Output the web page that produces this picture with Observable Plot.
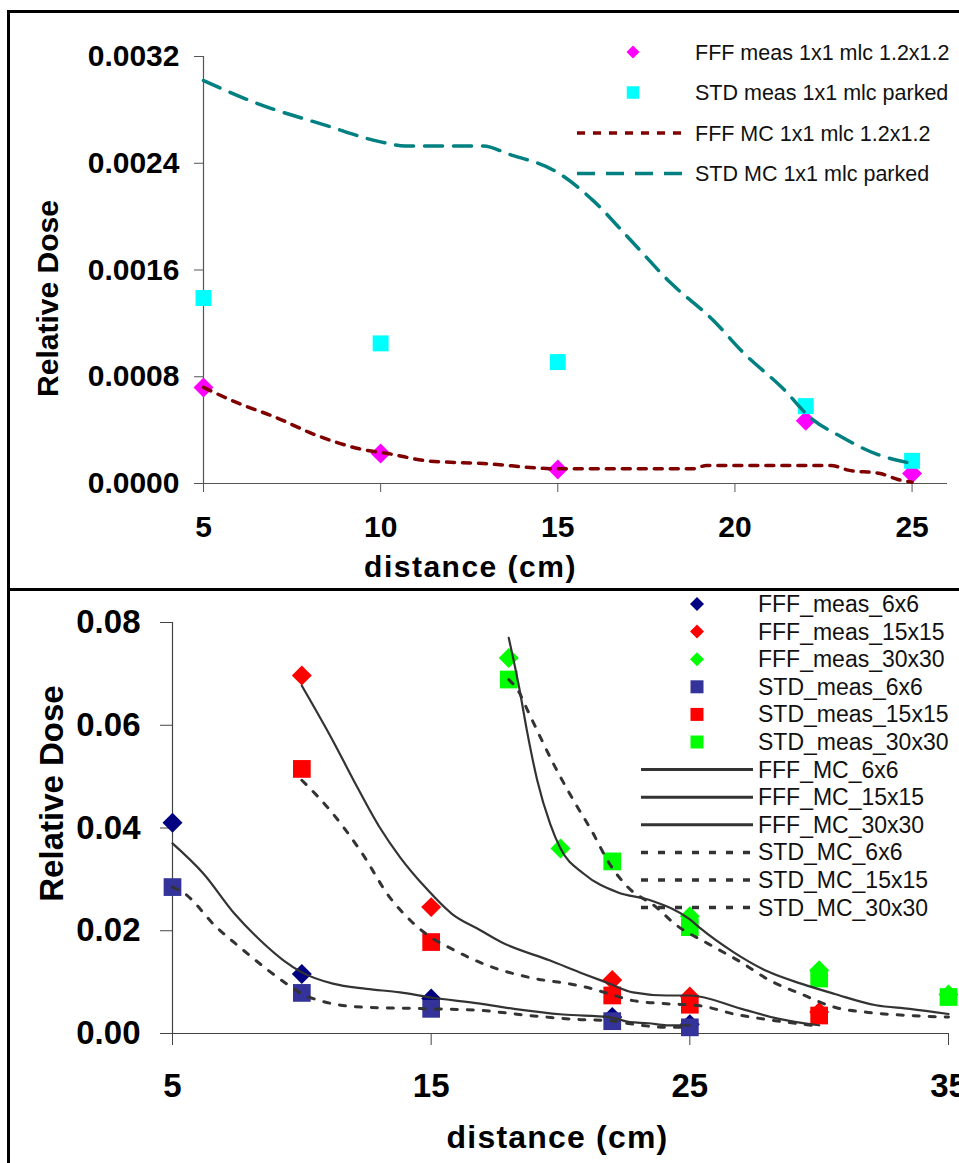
<!DOCTYPE html>
<html><head><meta charset="utf-8">
<script src="https://cdn.jsdelivr.net/npm/d3@7"></script>
<script src="https://cdn.jsdelivr.net/npm/@observablehq/plot@0.6"></script>
<style>
html,body{margin:0;padding:0;background:#fff;overflow:hidden;}
body{width:959px;height:1163px;position:relative;font-family:"Liberation Sans",Arial,Helvetica,sans-serif;}
.abs{position:absolute;left:0;}
.box{position:absolute;pointer-events:none;border-color:#000;border-style:solid;}
</style></head><body>
<div id="top" class="abs" style="top:0"></div>
<div id="bot" class="abs" style="top:591px"></div>
<svg id="legend" class="abs" style="top:0;pointer-events:none" width="959" height="1163"></svg>
<div class="box" style="left:7px;top:10px;width:1000px;height:575px;border-width:3px 0 3px 3px"></div>
<div class="box" style="left:7px;top:591px;width:1000px;height:600px;border-width:0 0 0 3px"></div>
<script>
// ---------- TOP PANEL DATA ----------
const topMeasX = [5, 10, 15, 22, 25];
const fffMeas1 = [0.00072, 0.000224, 0.000105, 0.00047, 0.000075];
const stdMeas1 = [0.00139, 0.00105, 0.00091, 0.00058, 0.00017];
const fffMc1X = [5, 6, 7, 8.2, 9.4, 10.3, 11.3, 12.9, 15, 18.8, 19.2, 22.7, 23.2, 24.1, 24.6, 25];
const fffMc1Y = [0.00072, 0.0006, 0.0005, 0.00036, 0.00026, 0.00022, 0.00017, 0.00015, 0.00011, 0.00011, 0.000135, 0.000135, 0.0001, 0.000075, 0.00003, 0.00001];
const stdMc1X = [5, 6.4, 8.5, 10, 10.7, 12.9, 13.6, 15, 16, 17, 18.2, 19.4, 20.2, 21.4, 22.1, 23, 24, 25];
const stdMc1Y = [0.00302, 0.00286, 0.00268, 0.00256, 0.00253, 0.00253, 0.00247, 0.00233, 0.00212, 0.00184, 0.0015, 0.00122, 0.00099, 0.0007, 0.0005, 0.00035, 0.00022, 0.00015];
const topYTicks = [0, 0.0008, 0.0016, 0.0024, 0.0032];
const topXTicks = [5, 10, 15, 20, 25];
const topLegendNames = ["FFF meas 1x1 mlc 1.2x1.2", "STD meas 1x1 mlc parked", "FFF MC 1x1 mlc 1.2x1.2", "STD MC 1x1 mlc parked"];

// ---------- BOTTOM PANEL DATA ----------
const x6 = [5, 10, 15, 22, 25];
const fffMeas6 = [0.041, 0.0116, 0.0068, 0.0032, 0.0018];
const stdMeas6 = [0.0285, 0.0079, 0.0048, 0.0024, 0.0012];
const x15 = [10, 15, 22, 25, 30];
const fffMeas15 = [0.0697, 0.0246, 0.0104, 0.0072, 0.0042];
const stdMeas15 = [0.0515, 0.0178, 0.0074, 0.0056, 0.0035];
const x30f = [18, 20, 25, 30, 35];
const fffMeas30 = [0.0731, 0.036, 0.0228, 0.0123, 0.0076];
const x30s = [18, 22, 25, 30, 35];
const stdMeas30 = [0.0689, 0.0335, 0.0207, 0.0107, 0.0071];

const fffMc6X = [5, 6.2, 7.4, 8.4, 9.3, 10, 11.2, 12.5, 13.8, 15, 16.9, 18.2, 20.1, 21.9, 22.7, 23.4, 24.1, 25];
const fffMc6Y = [0.037, 0.0311, 0.0233, 0.0181, 0.0142, 0.0119, 0.0097, 0.0087, 0.008, 0.007, 0.0058, 0.0048, 0.0037, 0.0032, 0.0022, 0.002, 0.0016, 0.0016];
const fffMc15X = [10, 11.2, 12, 13, 13.8, 14.8, 15.8, 16.9, 17.7, 19.6, 20.9, 21.9, 22.8, 24.1, 25, 27, 28.4, 30];
const fffMc15Y = [0.0677, 0.057, 0.0493, 0.0402, 0.0343, 0.0283, 0.0233, 0.0201, 0.0178, 0.0142, 0.0116, 0.0097, 0.008, 0.0074, 0.0074, 0.0048, 0.0029, 0.0016];
const fffMc30X = [18, 18.4, 18.7, 19.1, 19.6, 20, 20.9, 22.2, 23.5, 25, 25.4, 26.7, 28, 29.3, 30.6, 32.2, 33.5, 35];
const fffMc30Y = [0.077, 0.0674, 0.059, 0.0493, 0.0408, 0.036, 0.0311, 0.0275, 0.0259, 0.0222, 0.0205, 0.0158, 0.0121, 0.0097, 0.0077, 0.0055, 0.0048, 0.0038];
const stdMc6X = [5, 5.4, 6.7, 7.6, 8.7, 9.6, 10, 10.7, 11.4, 12.5, 15.1, 16.9, 18.8, 20.8, 21.9, 22.7, 24.1, 25];
const stdMc6Y = [0.0285, 0.0275, 0.0207, 0.0168, 0.0123, 0.009, 0.0077, 0.0064, 0.0056, 0.0051, 0.0048, 0.0045, 0.0035, 0.0027, 0.0025, 0.0019, 0.0012, 0.0012];
const stdMc15X = [10, 11.1, 12.3, 13.4, 14.2, 14.8, 15.9, 17, 19, 20.3, 21, 21.9, 22.8, 24.1, 25.4, 26.7, 28.3, 30];
const stdMc15Y = [0.0493, 0.0434, 0.0353, 0.0265, 0.022, 0.0194, 0.0162, 0.0136, 0.0107, 0.0097, 0.009, 0.0077, 0.0064, 0.0058, 0.0054, 0.0038, 0.0025, 0.0014];
const stdMc30X = [18, 18.4, 18.7, 19.8, 20.5, 21.2, 21.9, 22.6, 23.7, 24.4, 25.7, 27, 28.1, 29.3, 30.6, 31.9, 33.5, 35];
const stdMc30Y = [0.0689, 0.0664, 0.0632, 0.0518, 0.0454, 0.0395, 0.033, 0.0285, 0.0246, 0.0214, 0.0175, 0.0138, 0.0103, 0.0077, 0.0051, 0.0041, 0.0035, 0.0032];
const botYTicks = [0, 0.02, 0.04, 0.06, 0.08];
const botXTicks = [5, 15, 25, 35];
const botLegendNames = ["FFF_meas_6x6", "FFF_meas_15x15", "FFF_meas_30x30", "STD_meas_6x6", "STD_meas_15x15", "STD_meas_30x30",
  "FFF_MC_6x6", "FFF_MC_15x15", "FFF_MC_30x30", "STD_MC_6x6", "STD_MC_15x15", "STD_MC_30x30"];

// ---------- helpers ----------
const zip = (xs, ys) => xs.map((x, i) => ({x, y: ys[i]}));
const FONT = '"Liberation Sans", Arial, Helvetica, sans-serif';
const C = {magenta: "#ff00ff", cyan: "#00ffff", maroon: "#800000", teal: "#008080",
  navy: "#000080", red: "#ff0000", lime: "#00ff00", slate: "#333399", mc: "#333333"};

// ---------- TOP PLOT ----------
const topPlot = Plot.plot({
  width: 959, height: 588,
  marginLeft: 203, marginRight: 12, marginTop: 56, marginBottom: 105,
  style: {background: "transparent", fontFamily: FONT, fontSize: "30px", fontWeight: "bold", color: "#000", overflow: "visible"},
  x: {domain: [5, 26]},
  y: {domain: [0, 0.0032]},
  marks: [
    Plot.ruleX([5], {stroke: "#555", strokeWidth: 1.2}),
    Plot.ruleY([0], {stroke: "#555", strokeWidth: 1.2}),
    Plot.axisY(topYTicks, {tickSize: 9, tickPadding: 15, tickFormat: d3.format(".4f"), stroke: "#555", fill: "#000", label: null}),
    Plot.axisX(topXTicks, {tickSize: 9, tickPadding: 23, tickFormat: d => String(d), stroke: "#555", fill: "#000", label: null}),
    Plot.dot(zip(topMeasX, fffMeas1), {x: "x", y: "y", symbol: "diamond2", r: 9, fill: C.magenta}),
    Plot.dot(zip(topMeasX, stdMeas1), {x: "x", y: "y", symbol: "square", r: 9, fill: C.cyan}),
    Plot.line(zip(fffMc1X, fffMc1Y), {x: "x", y: "y", stroke: C.maroon, strokeWidth: 3.5, strokeDasharray: "8 8", curve: "monotone-x"}),
    Plot.line(zip(stdMc1X, stdMc1Y), {x: "x", y: "y", stroke: C.teal, strokeWidth: 3.5, strokeDasharray: "18 11", curve: "monotone-x"}),
    Plot.text(["Relative Dose"], {text: d => d, frameAnchor: "left", textAnchor: "middle", lineAnchor: "middle", rotate: -90, dx: -155, dy: 28.5, fontSize: 30, fontWeight: "bold"}),
    Plot.text(["distance (cm)"], {text: d => d, frameAnchor: "bottom", textAnchor: "middle", lineAnchor: "middle", dx: -105, dy: 84, fontSize: 30, fontWeight: "bold"})
  ]
});
document.getElementById("top").appendChild(topPlot);

// ---------- BOTTOM PLOT ----------
const measMarks = [
  [x6, fffMeas6, "diamond2", C.navy],
  [x15, fffMeas15, "diamond2", C.red],
  [x30f, fffMeas30, "diamond2", C.lime],
  [x6, stdMeas6, "square", C.slate],
  [x15, stdMeas15, "square", C.red],
  [x30s, stdMeas30, "square", C.lime]
].map(([xs, ys, sym, col]) => Plot.dot(zip(xs, ys), {x: "x", y: "y", symbol: sym, r: sym === "square" ? 10 : 9, fill: col}));
const mcMarks = [
  [fffMc6X, fffMc6Y, false], [fffMc15X, fffMc15Y, false], [fffMc30X, fffMc30Y, false],
  [stdMc6X, stdMc6Y, true], [stdMc15X, stdMc15Y, true], [stdMc30X, stdMc30Y, true]
].map(([xs, ys, dotted]) => Plot.line(zip(xs, ys), {x: "x", y: "y", stroke: C.mc,
  strokeWidth: dotted ? 3 : 2.2, strokeDasharray: dotted ? "6 10" : null, curve: "monotone-x"}));

const botPlot = Plot.plot({
  width: 959, height: 572,
  marginLeft: 172, marginRight: 11, marginTop: 31, marginBottom: 130,
  style: {background: "transparent", fontFamily: FONT, fontSize: "33px", fontWeight: "bold", color: "#000", overflow: "visible"},
  x: {domain: [5, 35]},
  y: {domain: [0, 0.08]},
  marks: [
    Plot.ruleX([5], {stroke: "#444", strokeWidth: 1.2}),
    Plot.ruleY([0], {stroke: "#444", strokeWidth: 1.2}),
    Plot.axisY(botYTicks, {tickSize: 12, tickPadding: 20, tickFormat: d3.format(".2f"), stroke: "#444", fill: "#000", label: null}),
    Plot.axisX(botXTicks, {tickSize: 12, tickPadding: 28, tickFormat: d => String(d), stroke: "#444", fill: "#000", label: null}),
    ...measMarks,
    ...mcMarks,
    Plot.text(["Relative Dose"], {text: d => d, frameAnchor: "left", textAnchor: "middle", lineAnchor: "middle", rotate: -90, dx: -120, dy: -34.5, fontSize: 33, fontWeight: "bold"}),
    Plot.text(["distance (cm)"], {text: d => d, frameAnchor: "bottom", textAnchor: "middle", lineAnchor: "middle", dx: -3, dy: 104, fontSize: 32, fontWeight: "bold"})
  ]
});
document.getElementById("bot").appendChild(botPlot);

// letter spacing for x titles
d3.select(topPlot).selectAll("text").filter(function(){ return this.textContent === "distance (cm)"; }).style("letter-spacing", "1.5px");
d3.select(botPlot).selectAll("text").filter(function(){ return this.textContent === "distance (cm)"; }).style("letter-spacing", "1.2px");

// ---------- LEGENDS (overlay) ----------
const lg = d3.select("#legend").style("font-family", FONT);
function drawLegend(names, styles, opt) {
  names.forEach((name, i) => {
    const y = opt.y0 + i * opt.dy;
    const s = styles[i];
    const g = lg.append("g");
    if (s.symbol) {
      const sym = s.symbol === "diamond" ? d3.symbolDiamond2 : d3.symbolSquare;
      const size = s.symbol === "diamond" ? opt.diamondSize : opt.squareSize;
      g.append("path").attr("d", d3.symbol(sym, size)()).attr("transform", `translate(${opt.markerX},${y})`).attr("fill", s.color);
    } else {
      g.append("line").attr("x1", opt.lineX1).attr("x2", opt.lineX2).attr("y1", y).attr("y2", y)
        .attr("stroke", s.color).attr("stroke-width", s.width).attr("stroke-dasharray", s.dash || null);
    }
    g.append("text").attr("x", opt.textX).attr("y", y).attr("dy", "0.35em")
      .attr("font-size", opt.fontSize).attr("fill", "#111").text(name);
  });
}
drawLegend(topLegendNames, [
  {symbol: "diamond", color: C.magenta},
  {symbol: "square", color: C.cyan},
  {color: C.maroon, width: 3.5, dash: "8 8"},
  {color: C.teal, width: 3.5, dash: "18 11"}
], {y0: 52, dy: 40.5, markerX: 633, lineX1: 577, lineX2: 688, textX: 695, fontSize: 21.5, diamondSize: 108, squareSize: 156});
drawLegend(botLegendNames, [
  {symbol: "diamond", color: C.navy}, {symbol: "diamond", color: C.red}, {symbol: "diamond", color: C.lime},
  {symbol: "square", color: C.slate}, {symbol: "square", color: C.red}, {symbol: "square", color: C.lime},
  {color: C.mc, width: 3}, {color: C.mc, width: 3}, {color: C.mc, width: 3},
  {color: C.mc, width: 3.5, dash: "7 10"}, {color: C.mc, width: 3.5, dash: "7 10"}, {color: C.mc, width: 3.5, dash: "7 10"}
], {y0: 604, dy: 27.6, markerX: 697, lineX1: 641, lineX2: 753, textX: 758, fontSize: 23, diamondSize: 125, squareSize: 169});
</script>
</body></html>
